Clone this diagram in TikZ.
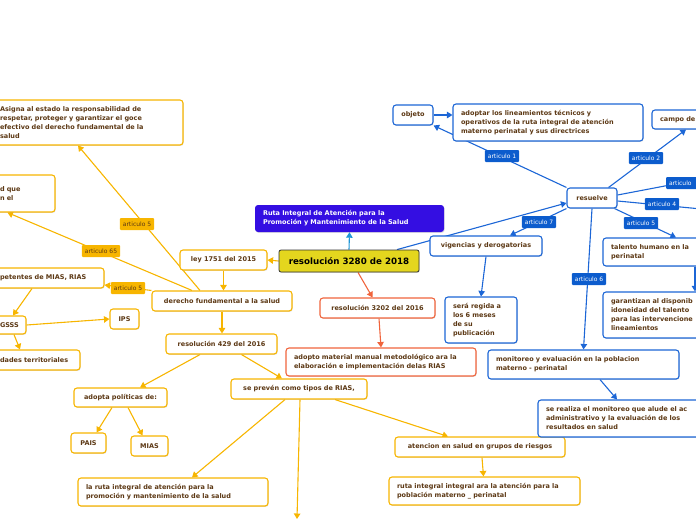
\documentclass[tikz,border=0pt]{standalone}
\usepackage{fontspec}
\setmainfont{DejaVu Sans}
\usetikzlibrary{arrows.meta,shadows}
\definecolor{oc}{RGB}{247,181,0}
\definecolor{bc}{RGB}{28,102,214}
\definecolor{bl}{RGB}{12,92,205}
\definecolor{rc}{RGB}{240,100,60}
\definecolor{tb}{RGB}{92,56,20}
\definecolor{cy}{RGB}{228,214,30}
\definecolor{pu}{RGB}{52,14,226}
\definecolor{lb}{RGB}{30,150,215}
\pgfdeclarelayer{bg}
\pgfsetlayers{bg,main}
\begin{document}
\begin{tikzpicture}[x=1pt,y=-1pt,
  box/.style={rounded corners=3pt,line width=1.1pt,fill=white,inner xsep=8pt,inner ysep=2pt,
    font=\bfseries\fontsize{6.5}{9}\selectfont,text=tb,
    drop shadow={shadow xshift=0.7pt,shadow yshift=-0.9pt,opacity=0.25}},
  ob/.style={box,draw=oc},
  bb/.style={box,draw=bc},
  rb/.style={box,draw=rc},
  ml/.style={align=left,text width=#1},
  lab/.style={rounded corners=1pt,inner xsep=3pt,inner ysep=1.5pt,font=\fontsize{6}{7}\selectfont,minimum height=12pt},
  olab/.style={lab,fill=oc,text=tb},
  blab/.style={lab,fill=bl,text=white},
  tip/.style={-{Triangle[length=5.5pt,width=6.5pt]}},
  oa/.style={draw=oc,line width=1.1pt,tip},
  ba/.style={draw=bc,line width=1.1pt,tip},
  ra/.style={draw=rc,line width=1.1pt,tip}
]
\useasboundingbox (0,0) rectangle (696,520);
\clip (0,0) rectangle (696,520);

% central nodes
\node[rounded corners=2pt,draw=black!80,line width=0.8pt,fill=cy,minimum width=140pt,minimum height=22pt,
  font=\bfseries\fontsize{8.7}{10}\selectfont,text=black,
  drop shadow={shadow xshift=0.7pt,shadow yshift=-0.9pt,opacity=0.25}] (central) at (349,261) {resolución 3280 de 2018};
\node[rounded corners=3pt,fill=pu,minimum width=189pt,minimum height=27pt,inner xsep=8pt,
  font=\bfseries\fontsize{6.5}{9}\selectfont,text=white,align=left,text width=173pt,
  drop shadow={shadow xshift=0.7pt,shadow yshift=-0.9pt,opacity=0.25}] (purple) at (349.5,218.5) {Ruta Integral de Atención para la\\Promoción y Mantenimiento de la Salud};

% orange nodes
\node[ob,ml=175pt,minimum width=191pt,minimum height=45pt] (asigna) at (87.5,122.5) {Asigna al estado la responsabilidad de\\respetar, proteger y garantizar el goce\\efectivo del derecho fundamental de la\\salud};
\node[ob,ml=47pt,minimum width=63pt,minimum height=37pt] (dque) at (23.5,193.5) {d que\\n el};
\node[ob,minimum width=87pt,minimum height=20pt] (ley) at (223.5,260) {ley 1751 del 2015};
\node[ob,minimum width=140pt,minimum height=20pt] (derecho) at (222,301) {derecho fundamental a la salud};
\node[ob,minimum width=111pt,minimum height=20pt] (r429) at (221.5,344) {resolución 429 del 2016};
\node[ob,ml=96pt,minimum width=112pt,minimum height=20pt] (petentes) at (48,278) {petentes de MIAS, RIAS};
\node[ob,ml=18pt,minimum width=34pt,minimum height=18pt] (gsss) at (9,325) {GSSS};
\node[ob,ml=72pt,minimum width=88pt,minimum height=20pt] (dades) at (36,360) {dades territoriales};
\node[ob,minimum width=29pt,minimum height=20pt,inner xsep=4pt] (ips) at (124.5,319) {IPS};
\node[ob,minimum width=93pt,minimum height=19pt] (adopta) at (120.5,397.5) {adopta políticas de:};
\node[ob,minimum width=35pt,minimum height=20pt,inner xsep=4pt] (pais) at (88.5,443) {PAIS};
\node[ob,minimum width=37pt,minimum height=20pt,inner xsep=4pt] (mias) at (149.5,446) {MIAS};
\node[ob,minimum width=136pt,minimum height=20pt] (preven) at (299,389) {se prevén como tipos de RIAS,};
\node[ob,ml=174pt,minimum width=190pt,minimum height=28pt] (laruta) at (173,492) {la ruta integral de atención para la\\promoción y mantenimiento de la salud};
\node[ob,minimum width=170pt,minimum height=20pt] (atencion) at (480,447) {atencion en salud en grupos de riesgos};
\node[ob,ml=175pt,minimum width=191pt,minimum height=28pt] (rutaint) at (484.5,491) {ruta integral integral ara la atención para la\\población materno \_ perinatal};
\coordinate (pb) at (297,519);

% red nodes
\node[rb,minimum width=115pt,minimum height=20pt] (r3202) at (377.5,308) {resolución 3202 del 2016};
\node[rb,ml=174pt,minimum width=190pt,minimum height=28pt] (adopto) at (381,362) {adopto material manual metodológico ara la\\elaboración e implementación delas RIAS};

% blue nodes
\node[bb,minimum width=50pt,minimum height=20pt,inner xsep=4pt] (resuelve) at (592,198) {resuelve};
\node[bb,minimum width=40pt,minimum height=20pt,inner xsep=4pt] (objeto) at (413,115) {objeto};
\node[bb,ml=174pt,minimum width=190pt,minimum height=37pt] (adoptar) at (548,122.5) {adoptar los lineamientos técnicos y\\operativos de la ruta integral de atención\\materno perinatal y sus directrices};
\node[bb,ml=62pt,minimum width=78pt,minimum height=19pt] (campo) at (691,119.5) {campo de};
\node[bb,ml=111pt,minimum width=127pt,minimum height=28pt] (talento) at (666.5,252) {talento humano en la\\perinatal};
\node[bb,minimum width=112pt,minimum height=20pt] (vigencias) at (486,246) {vigencias y derogatorias};
\node[bb,ml=56pt,minimum width=72pt,minimum height=46pt] (regida) at (481,320) {será regida a\\los 6 meses\\de su\\publicación};
\node[bb,ml=111pt,minimum width=127pt,minimum height=46pt] (garant) at (666.5,315) {garantizan al disponib\\idoneidad del talento\\para las intervencione\\lineamientos};
\node[bb,ml=175pt,minimum width=191pt,minimum height=29pt] (monit) at (583.5,364.5) {monitoreo y evaluación en la poblacion\\materno - perinatal};
\node[bb,ml=176pt,minimum width=192pt,minimum height=37pt] (realiza) at (634,418.5) {se realiza el monitoreo que alude el ac\\administrativo y la evaluación de los\\resultados en salud};
\coordinate (r3) at (712,177);
\coordinate (r4) at (712,210);

% labels
\node[olab] (l5a) at (137,224) {articulo 5};
\node[olab] (l65) at (101,251) {articulo 65};
\node[olab] (l5b) at (128,288) {articulo 5};
\node[blab] (b1) at (502,156) {articulo 1};
\node[blab] (b2) at (646,158) {articulo 2};
\node[blab,align=left,text width=32pt] (b3) at (685,183) {articulo};
\node[blab] (b4) at (662,204) {articulo 4};
\node[blab] (b5) at (641,223) {articulo 5};
\node[blab] (b6) at (589,279) {articulo 6};
\node[blab] (b7) at (539,222) {articulo 7};

\begin{pgfonlayer}{bg}
\clip (0,0) rectangle (696,520);
% orange
\draw[oa] (central.west) -- (ley.east);
\draw[oa] (ley.south) -- (ley.south |- derecho.north);
\draw[oa] (derecho.south) -- (derecho.south |- r429.north);
\draw[oa] ([xshift=20pt]r429.south) -- ([xshift=-17pt]preven.north);
\draw[oa] ([xshift=-21.5pt]r429.south) -- ([xshift=19.5pt]adopta.north);
\draw[oa] ([xshift=-8.5pt]adopta.south) -- ([xshift=8pt]pais.north);
\draw[oa] ([xshift=7.5pt]adopta.south) -- ([xshift=-7pt]mias.north);
\draw[oa] ([xshift=-14pt]preven.south) -- ([xshift=19pt]laruta.north);
\draw[oa] ([xshift=1pt]preven.south) -- (pb);
\draw[oa] ([xshift=36pt]preven.south) -- ([xshift=-32pt]atencion.north);
\draw[oa] ([xshift=2pt]atencion.south) -- ([xshift=-1pt]rutaint.north);
\draw[oa] ([xshift=-22pt]derecho.north) -- ([xshift=-9.5pt]asigna.south);
\draw[oa] ([xshift=-30pt]derecho.north) -- ([xshift=16pt]dque.south west);
\draw[oa] (derecho.north west) -- ([yshift=-7pt]petentes.east);
\draw[oa] ([xshift=-16pt]petentes.south) -- ([xshift=4pt]gsss.north);
\draw[oa] (gsss.east) -- (ips.west);
\draw[oa] ([xshift=5pt]gsss.south) -- ([xshift=-16pt]dades.north);
% red
\draw[ra] ([xshift=9pt]central.south) -- ([xshift=-5pt]r3202.north);
\draw[ra] ([xshift=1.5pt]r3202.south) -- (adopto.north);
% light blue
\draw[draw=lb,line width=1.1pt,tip] (central.north) -- (purple.south);
% blue
\draw[ba] ([xshift=48pt]central.north) -- ([yshift=-5pt]resuelve.west);
\draw[ba] (resuelve.north west) -- (objeto.south east);
\draw[ba] ([xshift=-9pt]resuelve.north east) -- ([xshift=-5pt]campo.south);
\draw[ba] ([yshift=3pt]resuelve.east) -- (r3);
\draw[ba] ([yshift=-3pt]resuelve.east) -- (r4);
\draw[ba] ([xshift=-3pt]resuelve.south east) -- ([xshift=9.5pt]talento.north);
\draw[ba] (resuelve.south) -- (monit.north);
\draw[ba] (resuelve.south west) -- ([xshift=24pt]vigencias.north);
\draw[ba] (objeto.east) -- (objeto.east -| adoptar.west);
\draw[ba] (vigencias.south) -- (regida.north);
\draw[ba] ([xshift=28.5pt]talento.south) -- ([xshift=28.5pt]garant.north);
\draw[ba] ([xshift=16.5pt]monit.south) -- ([xshift=-17pt]realiza.north);
\end{pgfonlayer}
\end{tikzpicture}
\end{document}
